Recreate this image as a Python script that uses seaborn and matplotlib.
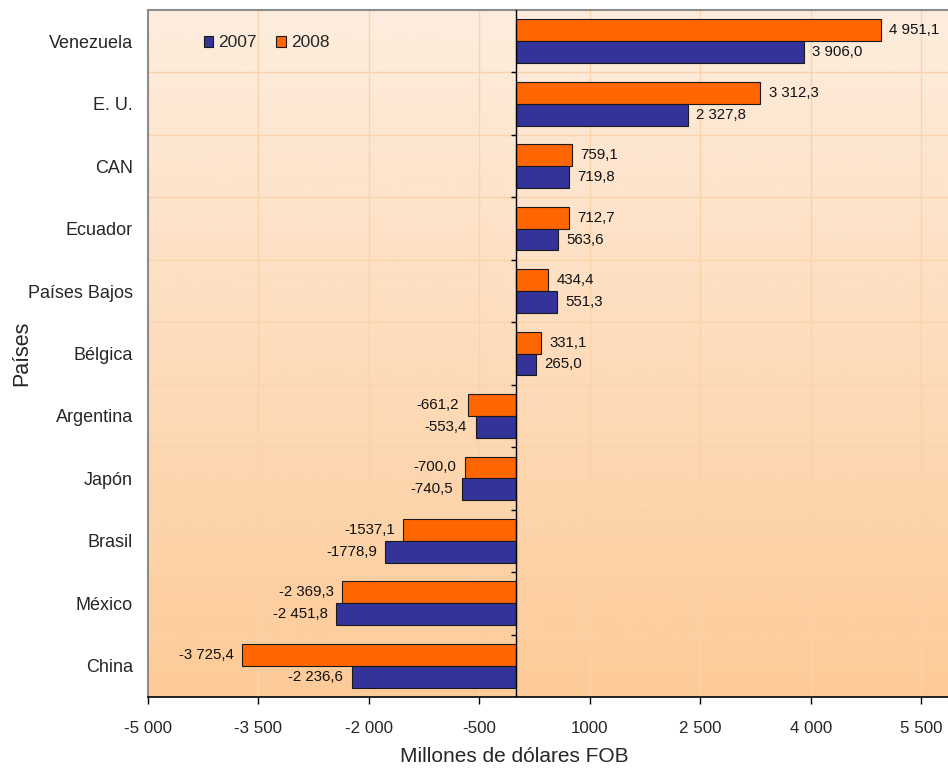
import numpy as np
import pandas as pd
import matplotlib
matplotlib.use("Agg")
import matplotlib.pyplot as plt
from matplotlib.patches import Patch
import seaborn as sns

# ------------------------------------------------------------
# Data (millones de dólares FOB)
# ------------------------------------------------------------
paises = ["Venezuela", "E. U.", "CAN", "Ecuador", "Países Bajos", "Bélgica",
          "Argentina", "Japón", "Brasil", "México", "China"]
valores_2007 = [3906.0, 2327.8, 719.8, 563.6, 551.3, 265.0,
                -553.4, -740.5, -1778.9, -2451.8, -2236.6]
valores_2008 = [4951.1, 3312.3, 759.1, 712.7, 434.4, 331.1,
                -661.2, -700.0, -1537.1, -2369.3, -3725.4]
etiquetas_2007 = ["3 906,0", "2 327,8", "719,8", "563,6", "551,3", "265,0",
                  "-553,4", "-740,5", "-1778,9", "-2 451,8", "-2 236,6"]
etiquetas_2008 = ["4 951,1", "3 312,3", "759,1", "712,7", "434,4", "331,1",
                  "-661,2", "-700,0", "-1537,1", "-2 369,3", "-3 725,4"]
x_ticks = [-5000, -3500, -2000, -500, 1000, 2500, 4000, 5500]
x_ticklabels = ["-5 000", "-3 500", "-2 000", "-500", "1000", "2 500", "4 000", "5 500"]

COL_2007 = "#333399"
COL_2008 = "#FF6600"
GRID_COL = "#FBD3AA"

df = pd.DataFrame({
    "País": paises * 2,
    "Valor": valores_2008 + valores_2007,
    "Año": ["2008"] * len(paises) + ["2007"] * len(paises),
})

# ------------------------------------------------------------
# Figure
# ------------------------------------------------------------
sns.set_style("white")
plt.rcParams["font.family"] = ["Liberation Sans", "DejaVu Sans"]

fig = plt.figure(figsize=(9.48, 7.71), dpi=100)
ax = fig.add_axes([148 / 948, 1 - 697 / 771, 800 / 948, 687 / 771])

# gradient background (pale peach top -> orange bottom)
grad = np.linspace(0, 1, 256).reshape(-1, 1)
top = np.array([253, 237, 222]) / 255
bot = np.array([253, 203, 152]) / 255
img = top + (bot - top) * grad[..., None]
ax.imshow(img, extent=[0, 1, 0, 1], transform=ax.transAxes,
          aspect="auto", zorder=-2)

sns.barplot(data=df, y="País", x="Valor", hue="Año", order=paises,
            hue_order=["2008", "2007"], orient="h", width=0.7,
            palette={"2008": COL_2008, "2007": COL_2007},
            edgecolor="#1a1a1a", linewidth=0.8, saturation=1,
            legend=False, ax=ax, zorder=3)

ax.set_xlim(-5000, 5860)
ax.set_ylim(len(paises) - 0.5, -0.5)

# value labels
for cont, labs in zip(ax.containers, [etiquetas_2008, etiquetas_2007]):
    ax.bar_label(cont, labels=labs, padding=6, fontsize=10.8, color="#111111")

# grid lines
for xt in x_ticks[1:]:
    ax.axvline(xt, color=GRID_COL, lw=1, zorder=-1)
bounds = np.arange(len(paises) - 1) + 0.5
for yb in bounds:
    ax.axhline(yb, color=GRID_COL, lw=1, zorder=-1)

# zero axis with small ticks at category boundaries
ax.axvline(0, color="black", lw=1, zorder=4)
for yb in bounds:
    ax.plot([-75, 0], [yb, yb], color="black", lw=1, zorder=4,
            solid_capstyle="butt")

# axes styling
ax.set_xticks(x_ticks)
ax.set_xticklabels(x_ticklabels, fontsize=12.2)
ax.tick_params(axis="x", direction="out", length=5, width=1, color="black",
               pad=12, bottom=True)
ax.tick_params(axis="y", length=0, pad=11, labelsize=13)
for side in ["left", "top"]:
    ax.spines[side].set_color("#8c8c8c")
    ax.spines[side].set_linewidth(1.5)
ax.spines["bottom"].set_color("black")
ax.spines["bottom"].set_linewidth(1.2)
ax.spines["right"].set_visible(False)

ax.set_xlabel("Millones de dólares FOB", fontsize=15)
ax.xaxis.set_label_coords((514 - 148) / 800, -0.073)
ax.set_ylabel("Países", fontsize=15.5)
ax.yaxis.set_label_coords(-0.145, 0.5)

handles = [Patch(facecolor=COL_2007, edgecolor="#1a1a1a", lw=0.8, label="2007"),
           Patch(facecolor=COL_2008, edgecolor="#1a1a1a", lw=0.8, label="2008")]
ax.legend(handles=handles, loc="center left", bbox_to_anchor=(0.061, 0.952),
          ncol=2, frameon=False, fontsize=12.5, handlelength=0.55,
          handleheight=0.55, handletextpad=0.3, columnspacing=1.1,
          borderaxespad=0)

fig.savefig("out.png", dpi=100, facecolor="white")
